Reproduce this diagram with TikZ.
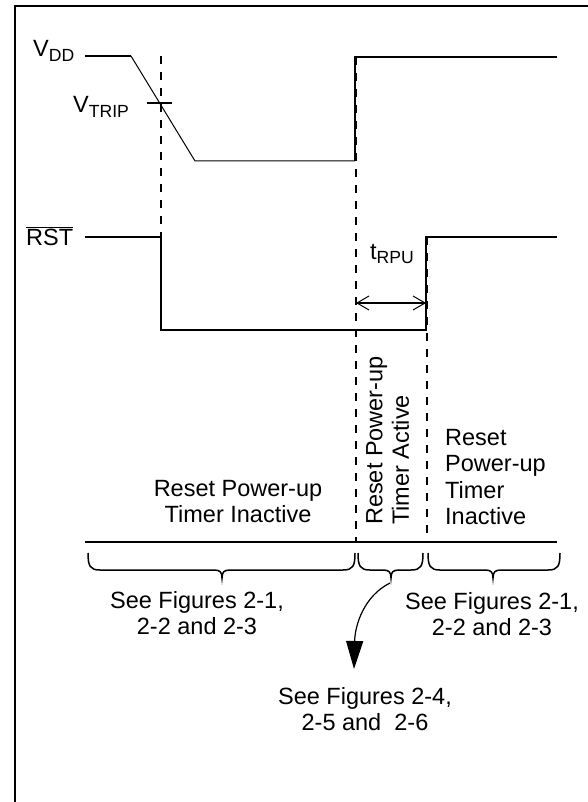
\documentclass[tikz,border=0pt]{standalone}
\usepackage{fontspec}
\setmainfont{Liberation Sans}
\usetikzlibrary{arrows.meta}
\newcommand{\lowsub}[1]{\raisebox{-4.5pt}{\fontsize{17.6}{18}\selectfont #1}}
\newcommand{\mybrace}[3]{%
  \draw[bracestyle] (#1,553) .. controls (#1,566) and (#1+2,570) .. (#1+12,570)
    -- (#2-8,570) .. controls (#2-2,570) and (#2,572) .. (#2,578)
    .. controls (#2,572) and (#2+2,570) .. (#2+8,570)
    -- (#3-12,570) .. controls (#3-2,570) and (#3,566) .. (#3,553);}
\begin{document}
\begin{tikzpicture}[x=1pt,y=-1pt,
  every node/.style={inner sep=0pt, font=\fontsize{23.5}{26.5}\selectfont},
  frame/.style={line width=2pt},
  sig/.style={line width=1.8pt},
  sigthin/.style={line width=1pt},
  guide/.style={line width=2pt, dash pattern=on 8pt off 8pt},
  bracestyle/.style={line width=1.5pt},
  dim/.style={line width=1.8pt,
    {Straight Barb[length=12pt,width=14pt,line width=1pt]}-{Straight Barb[length=12pt,width=14pt,line width=1pt]}},
  callout/.style={line width=1.2pt, -{Triangle[length=28pt,width=17pt]}}]
\useasboundingbox (0,0) rectangle (587,802);
% frame
\draw[frame] (15,812) -- (15,6.5) -- (600,6.5);
% VDD
\node[anchor=base west] (vdd) at (33,57) {V\lowsub{DD}};
\node[anchor=base west] (vtrip) at (73,113) {V\lowsub{TRIP}};
\coordinate (v0) at (85,56);
\coordinate (v1) at (131,56);
\coordinate (v2) at (195,161);
\coordinate (v3) at (355,161);
\coordinate (v4) at (355,57);
\coordinate (v5) at (557,57);
\draw[sig] (v0) -- (v1);
\draw[sigthin] (v1) -- (v2) -- (v3);
\draw[sig] (v3) -- (v4) -- (v5);
\draw[sig] (147,103) -- (172,103);
% guides
\coordinate (g1t) at (161,56);  \coordinate (g1b) at (161,237);
\coordinate (g2t) at (356,57);  \coordinate (g2b) at (356,542);
\coordinate (g3t) at (427,237); \coordinate (g3b) at (427,542);
\draw[guide] (g1t) -- (g1b);
\draw[guide] (g2t) -- (g2b);
\draw[guide] (g3t) -- (g3b);
% RST
\node[anchor=base west] (rst) at (26,245) {$\overline{\mbox{RST}}$};
\draw[sig] (85,237) -- (161,237) -- (161,330) -- (426,330) -- (426,237) -- (557,237);
% tRPU
\node[anchor=base west] (trpu) at (370,259) {t\lowsub{RPU}};
\coordinate (a1) at (356,303);
\coordinate (a2) at (426,303);
\draw[dim] (a1) -- (a2);
% region line
\draw[sig] (85,542) -- (557,542);
% region labels
\node[anchor=north, align=center] (inact1) at (238,480) {Reset Power-up\\Timer Inactive};
\node[anchor=north west, align=left, rotate=90] (act) at (366,525) {Reset Power-up\\Timer Active};
\node[anchor=north west, align=left] (inact2) at (445,429) {Reset\\Power-up\\Timer\\Inactive};
% braces
\mybrace{88}{222}{355}
\mybrace{358}{391}{423}
\mybrace{428}{493}{560}
% references
\node[anchor=north, align=center] (see1) at (197,591) {See Figures 2-1,\\2-2 and 2-3};
\node[anchor=north, align=center] (see2) at (492,592) {See Figures 2-1,\\2-2 and 2-3};
\node[anchor=north, align=center] (see3) at (365,687) {See Figures 2-4,\\2-5 and\ \ 2-6};
\coordinate (mtip) at (390,583);
\coordinate (aend) at (354,669);
\draw[callout] (mtip) .. controls (364,596) and (355,625) .. (aend);
\end{tikzpicture}
\end{document}
